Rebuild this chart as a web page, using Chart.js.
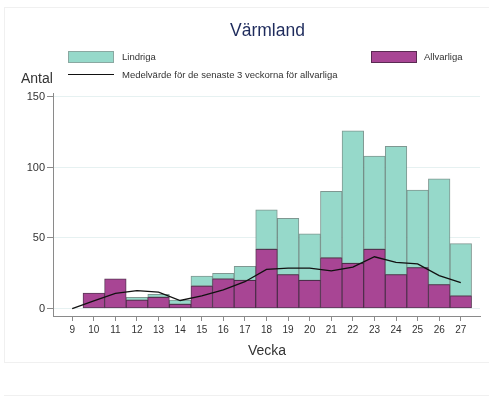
<!DOCTYPE html>
<html lang="sv">
<head>
<meta charset="utf-8">
<title>Värmland</title>
<script src="https://cdn.jsdelivr.net/npm/chart.js@4.4.1/dist/chart.umd.min.js"></script>
<style>
  html, body { margin: 0; padding: 0; background: #fff; overflow: hidden; }
  body { width: 489px; height: 399px; position: relative;
         font-family: "Liberation Sans", Arial, sans-serif; color: #333; }
  .rule { position: absolute; background: #f0f0f0; }
  canvas { position: absolute; left: 0; top: 0; }
  .txt { position: absolute; white-space: nowrap; line-height: 1; }
  #title { left: 0; width: 535px; text-align: center; top: 22px; font-size: 17.5px; color: #1e2b5c; }
  .swatch { position: absolute; width: 46px; height: 12px; box-sizing: border-box; }
  .legtxt { font-size: 9.5px; color: #333; }
  .axtitle { font-size: 14px; color: #333; }
</style>
</head>
<body>
<div class="rule" style="left:4px;top:7px;width:485px;height:1px;"></div>
<div class="rule" style="left:4px;top:7px;width:1px;height:356px;"></div>
<div class="rule" style="left:4px;top:362px;width:485px;height:1px;"></div>
<div class="rule" style="left:4px;top:395px;width:485px;height:1px;"></div>
<canvas id="chart" width="489" height="399"></canvas>

<div id="title" class="txt">Värmland</div>

<div class="swatch" style="left:68px;top:51px;background:#96d9ca;border:1px solid #8aa8a1;"></div>
<div class="txt legtxt" style="left:122px;top:52px;">Lindriga</div>

<div class="swatch" style="left:371px;top:51px;background:#a84594;border:1px solid #5a2a52;"></div>
<div class="txt legtxt" style="left:424px;top:52px;">Allvarliga</div>

<div style="position:absolute;left:68px;top:74px;width:46px;height:1.3px;background:#111;"></div>
<div class="txt legtxt" style="left:122px;top:70px;">Medelvärde för de senaste 3 veckorna för allvarliga</div>

<div class="txt axtitle" style="left:21px;top:71px;">Antal</div>
<div class="txt axtitle" style="left:0;width:534px;text-align:center;top:343px;">Vecka</div>

<script>
// Weekly counts for Värmland
const weeks      = [10, 11, 12, 13, 14, 15, 16, 17, 18, 19, 20, 21, 22, 23, 24, 25, 26, 27];
const allvarliga = [11, 21,  6,  8,  3, 16, 21, 20, 42, 24, 20, 36, 32, 42, 24, 29, 17,  9];
const lindriga   = [ 0,  0,  2,  2,  3,  7,  4, 10, 28, 40, 33, 47, 94, 66, 91, 55, 75, 37];

// Three-week mean of serious cases, weeks 9–27
const meanWeeks  = [9, 10, 11, 12, 13, 14, 15, 16, 17, 18, 19, 20, 21, 22, 23, 24, 25, 26, 27];
const meanValues = [0, 5.5, 10.7, 12.7, 11.7, 5.7, 9, 13.3, 19, 27.7, 28.7, 28.7, 26.7, 29.3, 36.7, 32.7, 31.7, 23.3, 18.3];

const yTicks = [0, 50, 100, 150];
const xTicks = [9, 10, 11, 12, 13, 14, 15, 16, 17, 18, 19, 20, 21, 22, 23, 24, 25, 26, 27];

const pts = (xs, ys) => xs.map((x, i) => ({ x: x, y: ys[i] }));

const AXIS = '#8a8a8a';
const FONT = '"Liberation Sans", Arial, sans-serif';

new Chart(document.getElementById('chart'), {
  data: {
    datasets: [
      {
        type: 'line',
        label: 'Medelvärde för de senaste 3 veckorna för allvarliga',
        data: pts(meanWeeks, meanValues),
        borderColor: '#111',
        borderWidth: 1.3,
        pointRadius: 0,
        tension: 0,
        stack: 'mean'
      },
      {
        type: 'bar',
        label: 'Allvarliga',
        data: pts(weeks, allvarliga),
        backgroundColor: '#a84594',
        borderColor: 'rgba(60,20,55,0.85)',
        borderWidth: 1,
        borderSkipped: false,
        barPercentage: 1,
        categoryPercentage: 1,
        stack: 'cases'
      },
      {
        type: 'bar',
        label: 'Lindriga',
        data: pts(weeks, lindriga),
        backgroundColor: '#96d9ca',
        borderColor: 'rgba(95,125,118,0.8)',
        borderWidth: 1,
        borderSkipped: false,
        barPercentage: 1,
        categoryPercentage: 1,
        stack: 'cases'
      }
    ]
  },
  options: {
    responsive: false,
    animation: false,
    layout: { padding: { top: 93, left: 0, right: 9, bottom: 53 } },
    plugins: {
      legend: { display: false },
      title: { display: false },
      tooltip: { enabled: false }
    },
    scales: {
      x: {
        type: 'linear',
        offset: false,
        min: 8.11,
        max: 27.89,
        afterBuildTicks: s => { s.ticks = xTicks.map(v => ({ value: v })); },
        afterFit: s => { s.height = 30; },
        grid: { offset: false, drawOnChartArea: false, drawTicks: true, tickLength: 5, color: AXIS, tickColor: AXIS },
        border: { display: true, color: AXIS, width: 1 },
        ticks: { color: '#333', font: { family: FONT, size: 10 }, padding: 3, maxRotation: 0, autoSkip: false }
      },
      y: {
        type: 'linear',
        stacked: true,
        min: -5.3,
        max: 152.8,
        afterBuildTicks: s => { s.ticks = yTicks.map(v => ({ value: v })); },
        afterFit: s => { s.width = 53; },
        grid: { drawOnChartArea: true, drawTicks: true, tickLength: 6, color: '#e6f1f1', tickColor: AXIS },
        border: { display: true, color: AXIS, width: 1 },
        ticks: { color: '#333', font: { family: FONT, size: 11 }, padding: 2 }
      }
    }
  }
});
</script>
</body>
</html>
